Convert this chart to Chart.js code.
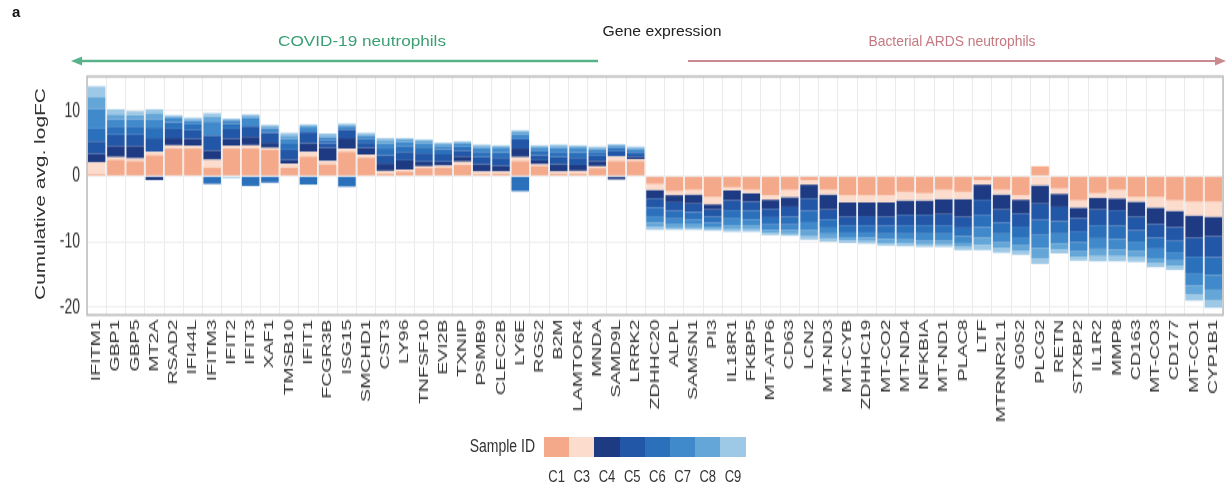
<!DOCTYPE html>
<html>
<head>
<meta charset="utf-8">
<script src="https://cdn.jsdelivr.net/npm/chart.js@4.4.1/dist/chart.umd.min.js"></script>
<style>
  body { margin: 0; background: #fff; font-family: "Liberation Sans", Arial, sans-serif; }
  #page { position: relative; width: 1232px; height: 488px; overflow: hidden; }
  /* the source figure is stretched vertically, so the chart is drawn short and scaled */
  #stretch { position: absolute; left: 0; top: 0; width: 1232px; height: 326px;
             transform: scaleY(1.5); transform-origin: 0 0; }
  #overlay { position: absolute; left: 0; top: 0; }
  #legend { position: absolute; left: 0; top: 0; }
  .sw { position: absolute; top: 437px; height: 20px; width: 25.2px; }
  .lab { position: absolute; top: 469px; width: 25.2px; text-align: center; font-size: 13px; color: #333;
         transform: scaleY(1.25); }
  #sid { position: absolute; left: 455px; top: 438px; width: 80px; text-align: right; font-size: 14px; color: #333;
         transform: scaleY(1.25); }
</style>
</head>
<body>
<div id="page">
  <div id="stretch"><canvas id="myChart" width="1232" height="326"></canvas></div>
  <svg id="overlay" width="1232" height="488">
    <text x="12" y="17" font-size="15" font-weight="bold" fill="#111">a</text>
    <text x="362" y="46" font-size="15" fill="#3b9f74" text-anchor="middle" textLength="168" lengthAdjust="spacingAndGlyphs">COVID-19 neutrophils</text>
    <text x="662" y="36" font-size="15" fill="#222" text-anchor="middle" textLength="119" lengthAdjust="spacingAndGlyphs">Gene expression</text>
    <text x="952" y="46" font-size="15" fill="#c47880" text-anchor="middle" textLength="167" lengthAdjust="spacingAndGlyphs">Bacterial ARDS neutrophils</text>
    <line x1="80" y1="61" x2="598" y2="61" stroke="#58b38a" stroke-width="2.5"/>
    <polygon points="71,61 82,56.5 82,65.5" fill="#58b38a"/>
    <line x1="688" y1="61" x2="1216" y2="61" stroke="#c98a90" stroke-width="2"/>
    <polygon points="1226,61 1215,56.5 1215,65.5" fill="#c98a90"/>
    <text transform="translate(45,194) rotate(-90)" font-size="15" fill="#333" text-anchor="middle" textLength="212" lengthAdjust="spacingAndGlyphs">Cumulative avg. logFC</text>
  </svg>
  <div id="legend"><div id="sid">Sample ID</div></div>
</div>
<script>
let genes = ['IFITM1', 'GBP1', 'GBP5', 'MT2A', 'RSAD2', 'IFI44L', 'IFITM3', 'IFIT2', 'IFIT3', 'XAF1',
  'TMSB10', 'IFIT1', 'FCGR3B', 'ISG15', 'SMCHD1', 'CST3', 'LY96', 'TNFSF10', 'EVI2B', 'TXNIP',
  'PSMB9', 'CLEC2B', 'LY6E', 'RGS2', 'B2M', 'LAMTOR4', 'MNDA', 'SAMD9L', 'LRRK2',
  'ZDHHC20', 'ALPL', 'SAMSN1', 'PI3', 'IL18R1', 'FKBP5', 'MT-ATP6', 'CD63', 'LCN2', 'MT-ND3',
  'MT-CYB', 'ZDHHC19', 'MT-CO2', 'MT-ND4', 'NFKBIA', 'MT-ND1', 'PLAC8', 'LTF', 'MTRNR2L1', 'G0S2',
  'PLCG2', 'RETN', 'STXBP2', 'IL1R2', 'MMP8', 'CD163', 'MT-CO3', 'CD177', 'MT-CO1', 'CYP1B1'];

let sampleIds = ['C1', 'C3', 'C4', 'C5', 'C6', 'C7', 'C8', 'C9'];
let sampleColors = ['#f4a98a', '#fcdccc', '#1d3a82', '#2257a7', '#2b70bb', '#4089ca', '#64a6d7', '#9dc8e6'];
let yTicks = [-20, -10, 0, 10];

// avg logFC per sample, one value per gene
let c1 = [0.3, 2.5, 2.3, 3.2, 4.2, 4.2, 1.3, 4.2, 4.2, 4.0, 1.3, 3.0, 1.8, 3.7, 2.8, 0.4, 0.7, 1.2, 1.3, 1.7,
  0.3, 0.4, 2.3, 1.5, 0.4, 0.4, 1.2, 2.3, 2.3,
  -1.2, -2.3, -2.1, -3.2, -1.7, -2.1, -2.9, -2.1, -0.6, -2.1, -2.9, -2.9, -2.9, -2.4, -2.6, -2.1, -2.4, -0.6, -2.1, -2.9,
  1.5, -1.9, -3.7, -2.6, -2.1, -3.2, -3.2, -3.7, -3.9, -3.9];
let c3 = [1.8, 0.4, 0.4, 0.5, 0.5, 0.4, 1.2, 0.4, 0.5, 0.3, 0.6, 0.7, 0.5, 0.5, 0.5, 0.4, 0.3, 0.3, 0.3, 0.5,
  0.4, 0.3, 0.6, 0.3, 0.3, 0.4, 0.3, 0.7, 0.3,
  -0.9, -0.6, -0.7, -1.1, -0.5, -0.5, -0.7, -1.1, -0.7, -0.7, -1.1, -1.1, -1.1, -1.3, -1.1, -1.4, -1.1, -0.7, -0.7, -0.7,
  -1.4, -0.8, -1.1, -0.7, -1.3, -0.7, -1.6, -1.6, -2.1, -2.3];
let c4 = [1.3, 1.7, 1.9, -0.6, 1.1, 1.1, 1.4, 1.1, 1.3, 0.8, 0.6, 1.3, 2.0, 1.6, 1.0, 1.1, 1.4, 0.7, 0.6, 0.8,
  1.1, 0.9, 1.3, 0.6, 1.1, 0.9, 0.8, -0.5, 0.3,
  -1.3, -1.1, -1.4, -0.8, -1.5, -1.3, -1.4, -1.5, -2.1, -2.3, -2.2, -2.1, -2.2, -2.2, -2.2, -2.3, -2.7, -2.3, -2.3, -2.1,
  -2.8, -2.0, -1.6, -1.8, -1.8, -2.3, -2.5, -2.5, -3.4, -3.0];
let c5 = [1.9, 1.7, 1.7, 2.1, 1.4, 1.3, 2.3, 1.5, 1.6, 1.5, 1.5, 1.7, 0.7, 1.3, 0.8, 1.3, 1.3, 1.3, 1.1, 0.9,
  1.1, 1.2, 1.4, 0.8, 1.1, 1.1, 0.8, 0.8, 0.4,
  -1.4, -1.3, -1.3, -1.1, -1.5, -1.4, -1.3, -1.5, -1.9, -1.5, -1.3, -1.4, -1.4, -1.6, -1.6, -1.7, -1.7, -2.3, -2.0, -2.0,
  -2.5, -2.2, -2.0, -2.4, -2.4, -2.1, -2.1, -2.1, -2.9, -3.2];
let c6 = [1.9, 1.3, 1.3, 1.6, 1.0, 0.9, -1.2, 0.8, -1.5, -1.0, 0.9, -1.3, 0.5, -1.6, 0.6, 1.0, 0.9, 0.9, 0.8, 0.6,
  0.8, 0.8, -2.3, 0.6, 0.8, 0.8, 0.6, 0.5, 0.4,
  -1.3, -1.2, -1.1, -0.9, -1.3, -1.3, -1.1, -1.2, -1.7, -1.3, -1.1, -1.1, -1.2, -1.3, -1.3, -1.3, -1.3, -1.9, -1.7, -1.6,
  -2.3, -1.9, -1.7, -2.0, -2.0, -1.7, -1.7, -1.7, -2.5, -2.7];
let c7 = [3.0, 1.0, 1.0, 1.3, 0.6, 0.5, 2.1, 0.5, 1.3, 0.7, 0.8, 0.7, 0.4, 0.5, 0.4, 0.8, 0.6, 0.6, 0.5, 0.4,
  0.6, 0.6, 0.8, 0.4, 0.6, 0.6, 0.4, 0.3, 0.3,
  -1.0, -0.9, -0.8, -0.6, -1.0, -0.9, -0.8, -0.8, -1.3, -0.9, -0.7, -0.8, -0.8, -0.9, -1.0, -1.0, -1.0, -1.6, -1.3, -1.3,
  -2.0, -1.5, -1.4, -1.6, -1.6, -1.4, -1.4, -1.3, -1.9, -2.2];
let c8 = [1.9, 0.8, 0.7, 0.9, 0.3, 0.3, 0.8, 0.2, 0.3, 0.3, 0.5, 0.3, 0.3, 0.2, 0.3, 0.5, 0.4, 0.4, 0.3, 0.2,
  0.3, 0.3, 0.4, 0.3, 0.3, 0.3, 0.2, 0.2, 0.3,
  -0.6, -0.5, -0.5, -0.4, -0.6, -0.6, -0.5, -0.6, -0.9, -0.7, -0.5, -0.5, -0.6, -0.6, -0.6, -0.6, -0.6, -1.1, -0.9, -0.8,
  -1.5, -0.9, -0.8, -1.1, -1.0, -1.0, -0.8, -0.8, -1.3, -1.6];
let c9 = [1.6, 0.8, 0.6, 0.6, 0.2, 0.2, 0.5, -0.3, 0.2, 0.2, 0.4, 0.2, 0.3, 0.2, 0.2, 0.3, 0.2, 0.2, 0.2, 0.2,
  0.2, 0.2, 0.2, 0.2, 0.2, 0.2, 0.2, 0.0, 0.2,
  -0.5, -0.3, -0.3, -0.2, -0.4, -0.4, -0.3, -0.3, -0.5, -0.5, -0.4, -0.4, -0.4, -0.4, -0.4, -0.4, -0.5, -0.8, -0.7, -0.6,
  -0.9, -0.6, -0.6, -0.8, -0.8, -0.7, -0.6, -0.6, -1.0, -1.2];

let sampleValues = [c1, c3, c4, c5, c6, c7, c8, c9];
let fontFamily = '"Liberation Sans", Arial, sans-serif';

// grey frame round the plot area
const framePlugin = {
  id: 'frame',
  afterDraw(chart) {
    const { ctx, chartArea } = chart;
    ctx.save();
    ctx.strokeStyle = '#b9b9b9';
    ctx.lineWidth = 1.4;
    ctx.strokeRect(chartArea.left, chartArea.top, chartArea.right - chartArea.left, chartArea.bottom - chartArea.top);
    ctx.restore();
  },
};

renderChart();
renderLegend();

function renderChart() {
  const ctx = document.getElementById('myChart');
  let datasets = [];
  for (let i = 0; i < sampleIds.length; i++) {
    datasets.push({
      label: sampleIds[i],
      data: sampleValues[i],
      backgroundColor: sampleColors[i],
      borderWidth: 0,
      barPercentage: 0.91,
      categoryPercentage: 1,
    });
  }

  new Chart(ctx, {
    type: 'bar',
    data: { labels: genes, datasets: datasets },
    plugins: [framePlugin],
    options: {
      responsive: false,
      animation: false,
      layout: { padding: { top: 51, right: 1, left: 0, bottom: 0 } },
      plugins: { legend: { display: false }, tooltip: { enabled: false } },
      scales: {
        x: {
          stacked: true,
          grid: { color: '#ebebeb', offset: true, drawTicks: false },
          border: { display: false },
          ticks: {
            autoSkip: false, minRotation: 90, maxRotation: 90, padding: 3,
            color: '#333', font: { family: fontFamily, size: 13 },
          },
          afterFit: (scale) => { scale.height = 116; },
        },
        y: {
          stacked: true,
          min: -21.2,
          max: 15.2,
          grid: { color: '#efefef', drawTicks: false },
          border: { display: false },
          ticks: { padding: 7, color: '#333', font: { family: fontFamily, size: 14 } },
          afterBuildTicks: (scale) => { scale.ticks = yTicks.map((v) => ({ value: v })); },
          afterFit: (scale) => { scale.width = 87; },
        },
      },
    },
  });
}

function renderLegend() {
  let legend = document.getElementById('legend');
  for (let i = 0; i < sampleIds.length; i++) {
    let sw = document.createElement('div');
    sw.className = 'sw';
    sw.style.left = 544 + i * 25.2 + 'px';
    sw.style.background = sampleColors[i];
    legend.appendChild(sw);

    let lab = document.createElement('div');
    lab.className = 'lab';
    lab.style.left = 544 + i * 25.2 + 'px';
    lab.innerText = sampleIds[i];
    legend.appendChild(lab);
  }
}
</script>
</body>
</html>
